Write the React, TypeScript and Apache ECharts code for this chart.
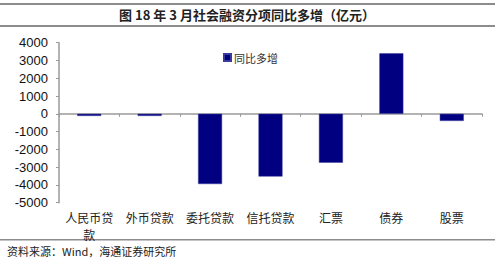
import React, { useEffect, useRef } from "react";
import * as echarts from "echarts";

const categories = ["人民币贷款", "外币贷款", "委托贷款", "信托贷款", "汇票", "债券", "股票"];
const categoryLabels = ["人民币贷\n款", "外币贷款", "委托贷款", "信托贷款", "汇票", "债券", "股票"];
const yoyIncrease = [-120, -120, -3950, -3530, -2750, 3400, -400];
const seriesName = "同比多增";
const titleText = "图 18 年 3 月社会融资分项同比多增（亿元）";
const sourceText = "资料来源：Wind，海通证券研究所";

export default function App() {
  const ref = useRef<HTMLDivElement>(null);
  useEffect(() => {
    if (!ref.current) return;
    const chart = echarts.init(ref.current, undefined, { renderer: "svg" });
    chart.setOption({
      animation: false,
      backgroundColor: "#ffffff",
      graphic: [
        { type: "rect", shape: { x: 0, y: 3, width: 495, height: 2 }, style: { fill: "#8c8c8c" } },
        { type: "rect", shape: { x: 0, y: 25, width: 495, height: 2 }, style: { fill: "#8c8c8c" } },
        { type: "rect", shape: { x: 0, y: 239, width: 495, height: 1.5 }, style: { fill: "#8c8c8c" } },
        {
          type: "text",
          x: 247,
          y: 14,
          style: {
            text: titleText,
            font: "bold 13px 'Noto Sans CJK SC'",
            fill: "#222",
            textAlign: "center",
            textVerticalAlign: "middle",
          },
        },
        {
          type: "text",
          x: 7,
          y: 251,
          style: {
            text: sourceText,
            font: "11px 'Noto Sans CJK SC'",
            fill: "#222",
            textAlign: "left",
            textVerticalAlign: "middle",
          },
        },
      ],
      legend: {
        left: 218,
        top: 47,
        itemWidth: 7,
        itemHeight: 7,
        icon: "rect",
        textStyle: { fontSize: 11, color: "#333", fontFamily: "Noto Sans CJK SC", padding: [0, 0, 0, -2] },
        data: [seriesName],
      },
      grid: { left: 59, right: 13, top: 42.7, bottom: 65.3, containLabel: false },
      xAxis: {
        type: "category",
        data: categories,
        axisLine: { onZero: true, lineStyle: { color: "#9a9a9a", width: 1.5 } },
        axisTick: { show: true, length: 3, lineStyle: { color: "#9a9a9a" } },
        axisLabel: {
          interval: 0,
          formatter: (_v: string, i: number) => categoryLabels[i],
          fontSize: 12,
          fontFamily: "Noto Sans CJK SC",
          color: "#222",
          lineHeight: 17,
          margin: 6,
        },
        position: "bottom",
      },
      yAxis: {
        type: "value",
        min: -5000,
        max: 4000,
        interval: 1000,
        splitLine: { show: false },
        axisLine: { show: true, lineStyle: { color: "#9a9a9a", width: 1.5 } },
        axisTick: { show: true, length: 3, lineStyle: { color: "#9a9a9a" } },
        axisLabel: {
          fontSize: 13,
          fontFamily: "Liberation Sans",
          color: "#111",
          margin: 11,
          formatter: (v: number) => String(v),
        },
      },
      series: [
        {
          name: seriesName,
          type: "bar",
          data: yoyIncrease,
          barWidth: 24,
          itemStyle: { color: "#000080", borderColor: "#3a3a9a", borderWidth: 0.5 },
        },
      ],
    });
    return () => chart.dispose();
  }, []);
  return <div ref={ref} style={{ position: "fixed", left: 0, top: 0, width: 495, height: 268 }} />;
}
